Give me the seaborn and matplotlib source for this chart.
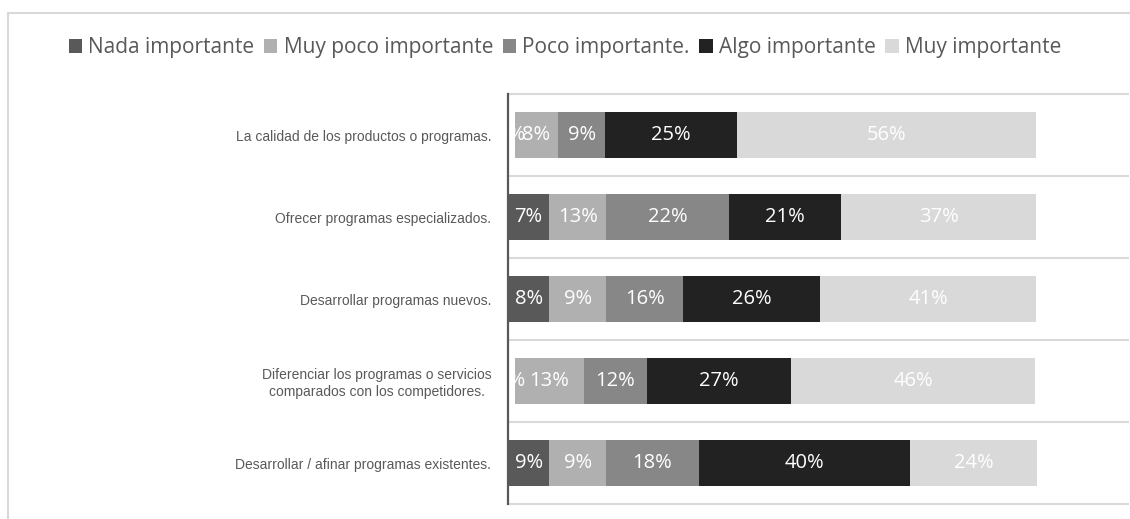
import matplotlib
matplotlib.use("Agg")
import matplotlib.pyplot as plt
import seaborn as sns
import pandas as pd
import numpy as np
from matplotlib.patches import Patch
from matplotlib.lines import Line2D

# ---------------- data ----------------
categories = [
    "La calidad de los productos o programas.",
    "Ofrecer programas especializados.",
    "Desarrollar programas nuevos.",
    "Diferenciar los programas o servicios\ncomparados con los competidores.",
    "Desarrollar / afinar programas existentes.",
]
series = ["Nada importante", "Muy poco importante", "Poco importante.",
          "Algo importante", "Muy importante"]

nada = [1.3, 7.8, 7.8, 1.3, 7.8]
muy_poco = [8.2, 10.8, 10.8, 13.1, 10.8]
poco = [8.9, 23.3, 14.6, 11.9, 17.5]
algo = [25.0, 21.1, 25.8, 27.3, 40.0]
muy = [56.5, 37.0, 41.0, 46.2, 24.0]

label_nada = ["1%", "7%", "8%", "1%", "9%"]
label_muy_poco = ["8%", "13%", "9%", "13%", "9%"]
label_poco = ["9%", "22%", "16%", "12%", "18%"]
label_algo = ["25%", "21%", "26%", "27%", "40%"]
label_muy = ["56%", "37%", "41%", "46%", "24%"]

# ---------------- styles ----------------
colors = ["#595959", "#b0b0b0", "#878787", "#222222", "#d9d9d9"]
hidden_nada_rows = [0, 3]   # rows whose first segment is not filled
text_gray = "#595959"

sns.set_theme(style="white")
plt.rcParams["font.family"] = ["Open Sans", "DejaVu Sans"]

W, H = 1130, 519
fig = plt.figure(figsize=(W / 100, H / 100), dpi=100)
ax = fig.add_axes([508 / W, 1 - 504 / H, (1129 - 508) / W, (504 - 94) / H])

values = [nada, muy_poco, poco, algo, muy]
labels = [label_nada, label_muy_poco, label_poco, label_algo, label_muy]
cum = np.cumsum(np.array(values), axis=0)

# draw cumulative layers from the outermost to the innermost
for i in range(len(series) - 1, -1, -1):
    df = pd.DataFrame({"cat": categories, "val": cum[i]})
    sns.barplot(data=df, x="val", y="cat", orient="h", color=colors[i],
                saturation=1, width=0.56, ax=ax, edgecolor="none",
                linewidth=0, order=categories)

# first segment not filled for certain rows
for r in hidden_nada_rows:
    ax.containers[-1].patches[r].set_facecolor("white")

# data labels
for i in range(len(series)):
    for r in range(len(categories)):
        xc = cum[i][r] - values[i][r] / 2
        ax.text(xc, r, labels[i][r], ha="center", va="center",
                color="white", fontsize=14.5, zorder=5)

ax.set_xlim(0, (1129 - 508.5) / 528 * 100)
ax.set_ylim(len(categories) - 0.5, -0.5)
ax.set_xticks([])
ax.set_xlabel("")
ax.set_ylabel("")

# category separators
bounds = np.arange(len(categories) + 1) - 0.5
ax.hlines(bounds, 0, 1, transform=ax.get_yaxis_transform(), color="#d9d9d9",
          linewidth=1.5, zorder=0.5, clip_on=False)

for s in ["top", "right", "bottom"]:
    ax.spines[s].set_visible(False)
ax.spines["left"].set_color("#595959")
ax.spines["left"].set_linewidth(1.6)

ax.tick_params(axis="y", length=0, pad=12)
ax.set_yticks(range(len(categories)))
ax.set_yticklabels(categories, fontsize=10, color=text_gray,
                   family=["Liberation Sans", "DejaVu Sans"],
                   multialignment="center")

# legend
handles = [Patch(facecolor=c, edgecolor="none") for c in colors]
leg = fig.legend(handles, series, loc="center", ncol=5,
                 bbox_to_anchor=(0.5, 1 - 48 / H), frameon=False,
                 fontsize=15, handlelength=0.65, handleheight=0.65,
                 handletextpad=0.3, columnspacing=0.45, borderaxespad=0)
for t in leg.get_texts():
    t.set_color(text_gray)

# outer frame (chart area border)
fig.add_artist(Line2D([8 / W, 8 / W], [0, 1 - 13 / H], transform=fig.transFigure,
                      color="#d9d9d9", linewidth=1.5))
fig.add_artist(Line2D([8 / W, 1], [1 - 13 / H, 1 - 13 / H], transform=fig.transFigure,
                      color="#d9d9d9", linewidth=1.5))

fig.savefig("out.png", dpi=100)
